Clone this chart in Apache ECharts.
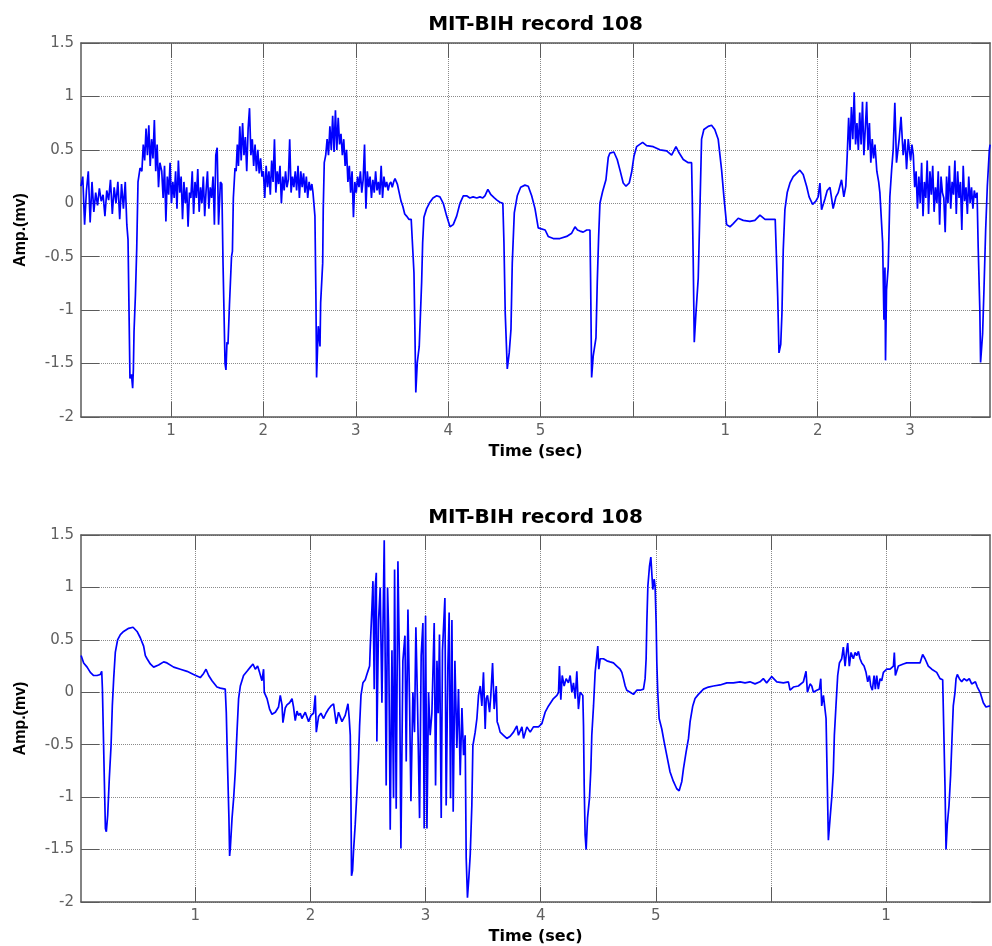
<!DOCTYPE html>
<html>
<head>
<meta charset="utf-8">
<title>MIT-BIH record 108</title>
<script src="https://cdn.jsdelivr.net/npm/echarts@6/dist/echarts.min.js"></script>
<style>
  html, body { margin: 0; padding: 0; background: #fff; }
  #chart { width: 992px; height: 946px; }
</style>
</head>
<body>
<div id="chart"></div>
<script>
// ECG trace, upper panel: [time, amplitude (mV)]
const upperTrace = [
  [0.026,0.16],[0.045,0.25],[0.065,-0.2],[0.085,0.12],[0.105,0.3],[0.125,-0.18],[0.145,0.2],[0.165,-0.08],[0.185,0.1],[0.205,-0.02],
  [0.225,0.14],[0.245,0.02],[0.265,0.08],[0.285,-0.12],[0.305,0.12],[0.325,0.03],[0.345,0.22],[0.365,-0.1],[0.385,0.15],[0.405,0.0],
  [0.425,0.2],[0.445,-0.15],[0.465,0.18],[0.485,-0.05],[0.505,0.2],[0.522,-0.2],
  [0.535,-0.34],[0.556,-1.64],[0.572,-1.6],[0.585,-1.73],[0.593,-1.55],[0.6,-1.2],[0.615,-0.86],[0.629,-0.43],[0.643,0.2],[0.665,0.33],
  [0.685,0.3],[0.7,0.55],[0.715,0.4],[0.73,0.7],[0.745,0.45],[0.76,0.73],[0.775,0.35],[0.79,0.6],[0.805,0.42],[0.82,0.78],
  [0.835,0.3],[0.85,0.55],[0.865,0.15],[0.88,0.38],
  [0.9,0.3],[0.915,0.05],[0.93,0.35],[0.945,-0.17],[0.96,0.25],[0.975,0.08],[0.99,0.38],[1.005,0.0],[1.02,0.2],[1.035,0.05],
  [1.05,0.3],[1.065,-0.05],[1.08,0.4],[1.095,0.1],[1.11,0.25],[1.125,-0.15],[1.14,0.2],[1.155,0.0],[1.17,0.15],[1.185,-0.22],
  [1.2,0.1],[1.215,0.05],[1.23,0.3],[1.245,-0.1],[1.26,0.2],[1.275,0.05],[1.29,0.32],[1.305,-0.08],[1.32,0.15],[1.335,0.0],
  [1.35,0.25],[1.365,-0.12],[1.38,0.12],[1.395,0.3],[1.41,-0.05],[1.425,0.15],[1.44,0.05],[1.455,0.25],[1.47,-0.2],[1.485,0.45],
  [1.5,0.52],[1.515,-0.2],[1.535,0.2],[1.55,0.18],
  [1.563,-0.55],[1.585,-1.5],[1.595,-1.56],[1.606,-1.3],[1.617,-1.32],[1.633,-0.95],[1.655,-0.5],[1.665,-0.45],[1.675,0.05],[1.693,0.33],
  [1.705,0.3],[1.718,0.55],[1.73,0.35],[1.745,0.72],[1.76,0.4],[1.775,0.75],[1.79,0.45],[1.805,0.62],[1.82,0.3],[1.835,0.7],
  [1.85,0.89],[1.865,0.45],[1.88,0.6],[1.895,0.35],[1.91,0.55],[1.925,0.3],[1.94,0.5],[1.955,0.28],[1.97,0.42],[1.985,0.25],
  [2.0,0.3],[2.015,0.05],[2.03,0.35],[2.045,0.15],[2.06,0.3],[2.075,0.08],[2.09,0.4],[2.105,0.2],[2.12,0.6],[2.135,0.1],
  [2.15,0.3],[2.165,0.18],[2.18,0.35],[2.195,0.0],[2.21,0.25],[2.225,0.12],[2.24,0.3],[2.255,0.15],[2.27,0.22],[2.285,0.6],
  [2.3,0.1],[2.315,0.25],[2.33,0.15],[2.345,0.3],[2.36,0.12],[2.375,0.35],[2.39,0.05],[2.405,0.3],[2.42,0.15],[2.435,0.28],
  [2.45,0.1],[2.465,0.25],[2.48,0.05],[2.495,0.2],[2.51,0.12],[2.525,0.18],
  [2.537,0.1],[2.558,-0.12],[2.569,-0.9],[2.576,-1.63],[2.594,-1.15],[2.613,-1.34],[2.62,-0.93],[2.642,-0.56],[2.648,-0.06],[2.659,0.38],
  [2.675,0.45],[2.69,0.6],[2.705,0.45],[2.72,0.72],[2.735,0.5],[2.75,0.82],[2.765,0.48],[2.78,0.87],[2.795,0.5],[2.81,0.8],
  [2.825,0.55],[2.84,0.65],[2.855,0.45],[2.87,0.6],[2.885,0.35],[2.9,0.5],[2.915,0.2],[2.93,0.35],[2.945,0.1],[2.96,0.3],
  [2.975,-0.13],[2.99,0.2],
  [3.005,0.1],[3.02,0.25],[3.035,0.15],[3.05,0.3],[3.065,0.1],[3.08,0.22],[3.095,0.55],[3.11,-0.05],[3.125,0.3],[3.14,0.15],
  [3.155,0.25],[3.17,0.05],[3.185,0.22],[3.2,0.1],[3.215,0.3],[3.23,0.12],[3.245,0.2],[3.26,0.08],[3.275,0.35],[3.29,0.05],
  [3.305,0.25],[3.32,0.15],[3.335,0.2],[3.35,0.12],[3.365,0.18],[3.38,0.2],[3.395,0.15],[3.41,0.2],[3.425,0.23],[3.45,0.18],
  [3.47,0.1],[3.49,0.02],[3.51,-0.03],[3.53,-0.1],[3.55,-0.12],[3.575,-0.15],[3.6,-0.15],[3.62,-0.16],
  [3.63,-0.65],[3.64,-1.18],[3.65,-1.77],[3.666,-1.49],[3.687,-1.34],[3.713,-0.74],[3.724,-0.37],[3.738,-0.13],[3.767,-0.05],[3.803,0.01],
  [3.836,0.05],[3.876,0.07],[3.911,0.06],[3.947,0.0],[3.984,-0.12],[4.02,-0.22],[4.055,-0.2],[4.092,-0.12],[4.128,0.0],[4.164,0.07],
  [4.2,0.07],[4.235,0.05],[4.27,0.06],[4.31,0.05],[4.344,0.06],[4.375,0.05],[4.398,0.07],[4.43,0.13],[4.463,0.08],[4.5,0.05],
  [4.528,0.03],[4.56,0.01],[4.592,0.0],
  [4.604,-0.37],[4.618,-1.03],[4.64,-1.55],[4.661,-1.4],[4.68,-1.18],[4.694,-0.56],[4.716,-0.09],[4.748,0.07],[4.785,0.15],[4.831,0.17],
  [4.867,0.16],[4.904,0.07],[4.94,-0.05],[4.975,-0.23],[5.01,-0.24],[5.05,-0.25],[5.083,-0.31],[5.138,-0.33],[5.21,-0.33],[5.283,-0.31],
  [5.337,-0.28],[5.373,-0.22],[5.4,-0.25],[5.427,-0.26],[5.462,-0.27],[5.5,-0.25],[5.535,-0.25],
  [5.542,-0.71],[5.553,-1.63],[5.57,-1.43],[5.6,-1.26],[5.614,-0.74],[5.629,-0.31],[5.643,0.0],[5.672,0.11],[5.708,0.22],[5.733,0.43],
  [5.751,0.47],[5.794,0.48],[5.83,0.41],[5.86,0.31],[5.895,0.19],[5.925,0.16],[5.96,0.19],[5.986,0.29],[6.011,0.44],[6.04,0.53],
  [6.105,0.57],[6.148,0.54],[6.22,0.53],[6.292,0.5],[6.365,0.49],[6.419,0.45],[6.466,0.53],[6.501,0.47],[6.545,0.41],[6.599,0.38],
  [6.635,0.38],
  [6.642,0.06],[6.653,-0.56],[6.664,-1.3],[6.682,-1.03],[6.707,-0.7],[6.725,-0.06],[6.743,0.6],[6.768,0.69],[6.815,0.72],[6.851,0.73],
  [6.886,0.69],[6.923,0.6],[6.96,0.31],[6.985,0.06],[7.014,-0.2],[7.05,-0.22],[7.086,-0.19],[7.14,-0.14],[7.194,-0.16],[7.266,-0.17],
  [7.32,-0.16],[7.375,-0.11],[7.43,-0.15],[7.483,-0.15],[7.54,-0.15],
  [7.55,-0.41],[7.567,-0.87],[7.581,-1.4],[7.6,-1.32],[7.613,-1.03],[7.627,-0.44],[7.645,-0.06],[7.67,0.1],[7.7,0.19],[7.735,0.25],
  [7.771,0.28],[7.807,0.31],[7.843,0.27],[7.88,0.16],[7.907,0.06],[7.945,-0.01],[7.98,0.02],[8.005,0.06],[8.024,0.19],[8.042,-0.06],
  [8.078,0.04],[8.103,0.12],[8.133,0.15],[8.15,0.16],[8.167,-0.05],[8.197,0.06],[8.222,0.1],[8.258,0.22],[8.283,0.06],[8.304,0.16],
  [8.319,0.44],
  [8.335,0.8],[8.35,0.5],[8.365,0.9],[8.38,0.6],[8.395,1.04],[8.41,0.55],[8.425,0.75],[8.44,0.5],[8.455,0.85],[8.47,0.55],
  [8.485,0.95],[8.5,0.45],[8.515,0.7],[8.53,0.95],[8.545,0.5],[8.56,0.75],[8.575,0.38],[8.59,0.6],[8.605,0.42],[8.62,0.55],
  [8.64,0.3],[8.66,0.2],
  [8.673,0.1],[8.703,-0.37],[8.717,-1.09],[8.728,-0.6],[8.734,-1.47],[8.745,-0.81],[8.763,-0.6],[8.781,0.06],[8.8,0.31],[8.817,0.5],
  [8.835,0.94],[8.853,0.38],[8.882,0.6],[8.902,0.81],[8.925,0.45],[8.945,0.6],[8.962,0.32],[8.98,0.6],[9.006,0.4],[9.02,0.55],
  [9.035,0.45],[9.05,0.15],[9.065,0.3],[9.08,-0.05],[9.095,0.25],[9.11,0.0],[9.125,0.38],[9.14,-0.12],[9.155,0.2],[9.17,0.05],
  [9.185,0.4],[9.2,-0.1],[9.215,0.3],[9.23,0.08],[9.245,0.35],[9.26,-0.08],[9.275,0.15],[9.29,0.0],[9.305,0.3],[9.32,-0.2],
  [9.335,0.25],[9.35,0.1],[9.365,0.05],[9.38,-0.27],[9.395,0.25],[9.41,0.0],[9.425,0.35],[9.44,-0.05],[9.455,0.2],[9.47,0.08],
  [9.485,0.4],[9.5,-0.1],[9.515,0.3],[9.53,0.05],[9.545,0.2],[9.56,-0.25],[9.575,0.35],[9.59,0.02],[9.605,0.15],[9.62,-0.1],
  [9.635,0.25],[9.65,0.0],[9.665,0.15],[9.68,-0.05],[9.695,0.12],[9.71,0.05],[9.725,0.1],
  [9.737,-0.41],[9.755,-1.0],[9.763,-1.49],[9.77,-1.5],[9.785,-1.22],[9.8,-0.8],[9.818,-0.25],[9.836,0.16],[9.858,0.5],[9.866,0.55]
];

// ECG trace, lower panel: [time, amplitude (mV)]
const lowerTrace = [
  [0.008,0.35],[0.03,0.28],[0.06,0.24],[0.088,0.19],[0.117,0.16],[0.146,0.16],[0.175,0.17],[0.187,0.2],
  [0.193,0.03],[0.201,-0.38],[0.21,-0.85],[0.219,-1.3],[0.227,-1.33],[0.239,-1.17],[0.253,-0.82],[0.268,-0.51],[0.279,-0.13],[0.291,0.13],
  [0.305,0.38],[0.325,0.5],[0.349,0.55],[0.377,0.58],[0.421,0.61],[0.459,0.62],[0.494,0.58],[0.522,0.52],[0.551,0.44],[0.566,0.35],
  [0.581,0.32],[0.609,0.27],[0.638,0.24],[0.681,0.26],[0.725,0.29],[0.754,0.28],[0.812,0.24],[0.87,0.22],[0.928,0.2],[0.985,0.17],
  [1.043,0.14],[1.072,0.18],[1.093,0.22],[1.116,0.16],[1.145,0.11],[1.188,0.05],[1.217,0.04],[1.26,0.03],
  [1.269,-0.19],[1.28,-0.7],[1.292,-1.2],[1.298,-1.56],[1.304,-1.49],[1.319,-1.2],[1.333,-1.01],[1.347,-0.76],[1.362,-0.38],[1.376,-0.06],
  [1.391,0.06],[1.419,0.16],[1.449,0.2],[1.478,0.24],[1.501,0.27],[1.521,0.22],[1.541,0.25],[1.558,0.19],[1.579,0.11],[1.593,0.22],
  [1.599,0.0],[1.623,-0.06],[1.645,-0.16],[1.666,-0.21],[1.695,-0.19],[1.723,-0.14],[1.738,-0.03],[1.753,-0.12],[1.761,-0.29],[1.781,-0.15],
  [1.796,-0.12],[1.819,-0.1],[1.84,-0.06],[1.853,-0.14],[1.868,-0.27],[1.883,-0.18],[1.897,-0.22],[1.912,-0.2],[1.926,-0.25],[1.955,-0.19],
  [1.984,-0.28],[2.005,-0.22],[2.027,-0.2],[2.042,-0.03],[2.051,-0.38],[2.071,-0.23],[2.091,-0.2],[2.114,-0.25],[2.135,-0.2],[2.157,-0.16],
  [2.178,-0.13],[2.201,-0.11],[2.224,-0.3],[2.244,-0.19],[2.274,-0.28],[2.302,-0.22],[2.326,-0.11],[2.337,-0.25],
  [2.346,-0.41],[2.352,-1.04],[2.357,-1.75],[2.366,-1.7],[2.374,-1.52],[2.389,-1.26],[2.404,-0.95],[2.418,-0.63],[2.427,-0.32],[2.439,-0.03],
  [2.456,0.09],[2.476,0.12],[2.496,0.19],[2.514,0.25],[2.52,0.44],
  [2.534,0.8],[2.543,1.06],[2.554,0.03],[2.563,1.0],[2.572,1.14],[2.577,-0.47],[2.592,0.69],[2.606,1.0],[2.621,-0.1],[2.641,1.45],
  [2.658,-0.89],[2.67,1.0],[2.679,0.6],[2.693,-1.31],[2.708,0.4],[2.722,-1.01],[2.731,1.17],[2.745,-1.11],[2.76,1.25],[2.774,0.2],
  [2.786,-1.49],[2.803,0.3],[2.821,0.54],[2.832,-0.66],[2.847,0.79],[2.861,-0.1],[2.873,-1.04],[2.89,0.0],[2.904,-0.38],[2.916,0.62],
  [2.93,-0.1],[2.948,-1.2],[2.962,0.35],[2.977,0.66],[2.988,-1.3],[3.0,0.73],[3.012,-1.3],[3.026,0.0],[3.04,-0.41],[3.055,-0.2],
  [3.075,0.66],[3.087,-0.89],[3.099,0.3],[3.11,-0.2],[3.121,0.55],[3.136,-1.2],[3.147,0.4],[3.168,0.9],[3.179,-1.08],[3.194,0.25],
  [3.205,0.76],[3.217,-1.01],[3.229,0.69],[3.24,-1.14],[3.255,0.3],[3.272,-0.53],[3.286,0.03],[3.301,-0.79],[3.316,-0.15],[3.33,-0.6],
  [3.344,-0.41],[3.353,-1.58],[3.364,-1.96],[3.376,-1.77],[3.388,-1.55],[3.402,-1.08],[3.411,-0.51],[3.431,-0.38],[3.446,-0.25],[3.46,-0.03],
  [3.475,0.06],[3.489,-0.13],[3.503,0.19],[3.518,-0.35],[3.527,-0.06],[3.538,-0.03],[3.556,-0.19],[3.567,-0.03],[3.582,0.28],[3.596,-0.16],
  [3.614,0.06],[3.622,-0.28],[3.634,-0.32],[3.648,-0.38],[3.677,-0.41],[3.706,-0.44],[3.735,-0.42],[3.764,-0.38],[3.778,-0.38],[3.793,-0.32],
  [3.807,-0.41],[3.837,-0.33],[3.851,-0.44],[3.88,-0.33],[3.909,-0.38],[3.937,-0.33],[3.981,-0.33],[4.01,-0.3],[4.039,-0.19],[4.068,-0.13],
  [4.111,-0.06],[4.141,-0.03],[4.155,0.0],[4.163,0.25],[4.175,-0.07],[4.187,0.16],[4.204,0.06],[4.221,0.13],[4.241,0.09],[4.256,0.16],
  [4.271,0.0],[4.285,0.09],[4.3,-0.06],[4.314,0.2],[4.328,-0.16],[4.343,0.0],[4.357,0.0],[4.366,-0.03],
  [4.372,-0.32],[4.378,-0.89],[4.386,-1.36],[4.395,-1.5],[4.407,-1.2],[4.424,-1.01],[4.436,-0.73],[4.444,-0.41],[4.459,-0.13],[4.473,0.19],
  [4.488,0.35],[4.496,0.44],[4.505,0.22],[4.517,0.32],[4.545,0.32],[4.575,0.3],[4.603,0.29],[4.632,0.28],[4.661,0.25],[4.69,0.22],
  [4.705,0.19],[4.719,0.13],[4.734,0.06],[4.748,0.02],[4.777,0.0],[4.806,-0.02],[4.835,0.02],[4.864,0.02],[4.893,0.03],[4.907,0.13],
  [4.916,0.32],[4.922,0.66],[4.931,1.01],[4.945,1.2],[4.957,1.29],[4.965,1.14],[4.974,0.98],[4.986,1.08],[4.994,1.01],[5.003,0.66],
  [5.009,0.28],[5.017,0.0],[5.029,-0.25],[5.052,-0.35],[5.072,-0.47],[5.095,-0.6],[5.124,-0.76],[5.153,-0.85],[5.182,-0.92],[5.203,-0.94],
  [5.226,-0.85],[5.24,-0.73],[5.263,-0.57],[5.284,-0.44],[5.298,-0.28],[5.321,-0.13],[5.341,-0.06],[5.37,-0.02],[5.414,0.03],[5.457,0.05],
  [5.501,0.06],[5.559,0.07],[5.617,0.09],[5.674,0.09],[5.732,0.1],[5.775,0.09],[5.818,0.1],[5.862,0.08],[5.905,0.1],[5.934,0.13],
  [5.963,0.09],[6.007,0.15],[6.051,0.1],[6.108,0.09],[6.152,0.1],[6.166,0.02],[6.195,0.05],[6.238,0.06],[6.282,0.1],[6.305,0.2],
  [6.317,0.0],[6.34,0.08],[6.355,0.06],[6.369,0.0],[6.398,0.02],[6.421,0.03],[6.433,0.13],[6.441,-0.13],[6.456,-0.03],[6.479,-0.25],
  [6.49,-0.89],[6.499,-1.41],[6.514,-1.2],[6.528,-1.01],[6.542,-0.76],[6.551,-0.41],[6.565,-0.13],[6.58,0.16],[6.595,0.28],[6.615,0.32],
  [6.629,0.43],[6.644,0.25],[6.658,0.4],[6.667,0.47],[6.681,0.25],[6.696,0.38],[6.716,0.32],[6.731,0.38],[6.745,0.35],[6.76,0.39],
  [6.774,0.32],[6.789,0.28],[6.809,0.25],[6.826,0.19],[6.841,0.1],[6.855,0.16],[6.867,0.06],[6.881,0.02],[6.896,0.16],[6.907,0.03],
  [6.919,0.16],[6.933,0.03],[6.948,0.13],[6.962,0.11],[6.977,0.19],[7.006,0.22],[7.035,0.22],[7.064,0.25],[7.072,0.38],[7.081,0.16],
  [7.107,0.25],[7.15,0.27],[7.179,0.28],[7.208,0.28],[7.252,0.28],[7.295,0.28],[7.318,0.36],[7.339,0.32],[7.367,0.25],[7.397,0.22],
  [7.44,0.19],[7.469,0.13],[7.492,0.12],
  [7.497,-0.13],[7.512,-0.89],[7.521,-1.5],[7.532,-1.26],[7.547,-1.08],[7.561,-0.79],[7.573,-0.44],[7.584,-0.13],[7.599,0.0],[7.608,0.13],
  [7.619,0.17],[7.637,0.13],[7.657,0.1],[7.677,0.13],[7.701,0.11],[7.723,0.13],[7.744,0.08],[7.776,0.1],[7.793,0.05],[7.817,0.0],
  [7.845,-0.1],[7.868,-0.14],[7.903,-0.13]
];

// Tick positions and their labels along each time axis
const upperTicks = [1, 2, 3, 4, 5, 6, 7, 8, 9];
const upperTickLabels = ['1', '2', '3', '4', '5', '', '1', '2', '3'];
const lowerTicks = [1, 2, 3, 4, 5, 6, 7];
const lowerTickLabels = ['1', '2', '3', '4', '5', '', '1'];

// Visible time window of each panel
const upperRange = [0.026, 9.865];
const lowerRange = [0.007, 7.903];

const titleText = 'MIT-BIH record 108';
const xName = 'Time (sec)';
const yName = 'Amp.(mv)';

const frameColor = '#5a5a5a';
const labelColor = '#606060';
const gridColor = '#8a8a8a';

function labelFor(ticks, labels) {
  return function (v) {
    for (let i = 0; i < ticks.length; i++) {
      if (Math.abs(ticks[i] - v) < 1e-6) return labels[i];
    }
    return '';
  };
}

function timeAxes(gridIndex, range, ticks, labels) {
  return [
    {
      type: 'value', gridIndex: gridIndex, position: 'bottom',
      min: range[0], max: range[1],
      name: xName, nameLocation: 'middle', nameGap: 27,
      nameTextStyle: { fontFamily: 'DejaVu Sans', fontWeight: 'bold', fontSize: 16, color: '#000' },
      axisLine: { show: true, onZero: false, lineStyle: { color: frameColor, width: 1.5 } },
      axisTick: { show: true, inside: true, length: 15, customValues: ticks, lineStyle: { color: frameColor, width: 1 } },
      axisLabel: { show: true, customValues: ticks, formatter: labelFor(ticks, labels), margin: 7,
                   fontFamily: 'DejaVu Sans', fontSize: 15, color: labelColor },
      splitLine: { show: true, lineStyle: { color: gridColor, type: 'dotted', width: 1 } }
    },
    {
      type: 'value', gridIndex: gridIndex, position: 'top',
      min: range[0], max: range[1],
      axisLine: { show: true, onZero: false, lineStyle: { color: frameColor, width: 1.5 } },
      axisTick: { show: true, inside: true, length: 15, customValues: ticks, lineStyle: { color: frameColor, width: 1 } },
      axisLabel: { show: false },
      splitLine: { show: false }
    }
  ];
}

function ampAxes(gridIndex) {
  return [
    {
      type: 'value', gridIndex: gridIndex, position: 'left',
      min: -2, max: 1.5, interval: 0.5,
      name: yName, nameLocation: 'middle', nameGap: 52, nameRotate: 90,
      nameTextStyle: { fontFamily: 'Liberation Sans', fontWeight: 'bold', fontSize: 16, color: '#000' },
      axisLine: { show: true, onZero: false, lineStyle: { color: frameColor, width: 1.5 } },
      axisTick: { show: true, inside: true, length: 18, lineStyle: { color: frameColor, width: 1 } },
      axisLabel: { show: true, margin: 7, fontFamily: 'DejaVu Sans', fontSize: 15, color: labelColor },
      splitLine: { show: true, lineStyle: { color: gridColor, type: 'dotted', width: 1 } }
    },
    {
      type: 'value', gridIndex: gridIndex, position: 'right',
      min: -2, max: 1.5, interval: 0.5,
      axisLine: { show: true, onZero: false, lineStyle: { color: frameColor, width: 1.5 } },
      axisTick: { show: true, inside: true, length: 18, lineStyle: { color: frameColor, width: 1 } },
      axisLabel: { show: false },
      splitLine: { show: false }
    }
  ];
}

const titleStyle = { fontFamily: 'DejaVu Sans', fontWeight: 'bold', fontSize: 20, color: '#000' };

const chart = echarts.init(document.getElementById('chart'), null, { renderer: 'canvas' });
chart.setOption({
  animation: false,
  backgroundColor: '#ffffff',
  title: [
    { text: titleText, left: 535.5, top: 15, textAlign: 'center', padding: 0, textStyle: titleStyle },
    { text: titleText, left: 535.5, top: 508, textAlign: 'center', padding: 0, textStyle: titleStyle }
  ],
  grid: [
    { left: 81, right: 2, top: 43, height: 374, containLabel: false },
    { left: 81, right: 2, top: 535, height: 369, containLabel: false }
  ],
  xAxis: timeAxes(0, upperRange, upperTicks, upperTickLabels)
    .concat(timeAxes(1, lowerRange, lowerTicks, lowerTickLabels)),
  yAxis: ampAxes(0).concat(ampAxes(1)),
  series: [
    {
      type: 'line', xAxisIndex: 0, yAxisIndex: 0, data: upperTrace,
      showSymbol: false, symbol: 'none', smooth: false,
      lineStyle: { color: '#0000ff', width: 1.7 }
    },
    {
      type: 'line', xAxisIndex: 2, yAxisIndex: 2, data: lowerTrace,
      showSymbol: false, symbol: 'none', smooth: false,
      lineStyle: { color: '#0000ff', width: 1.7 }
    }
  ]
});
</script>
</body>
</html>
